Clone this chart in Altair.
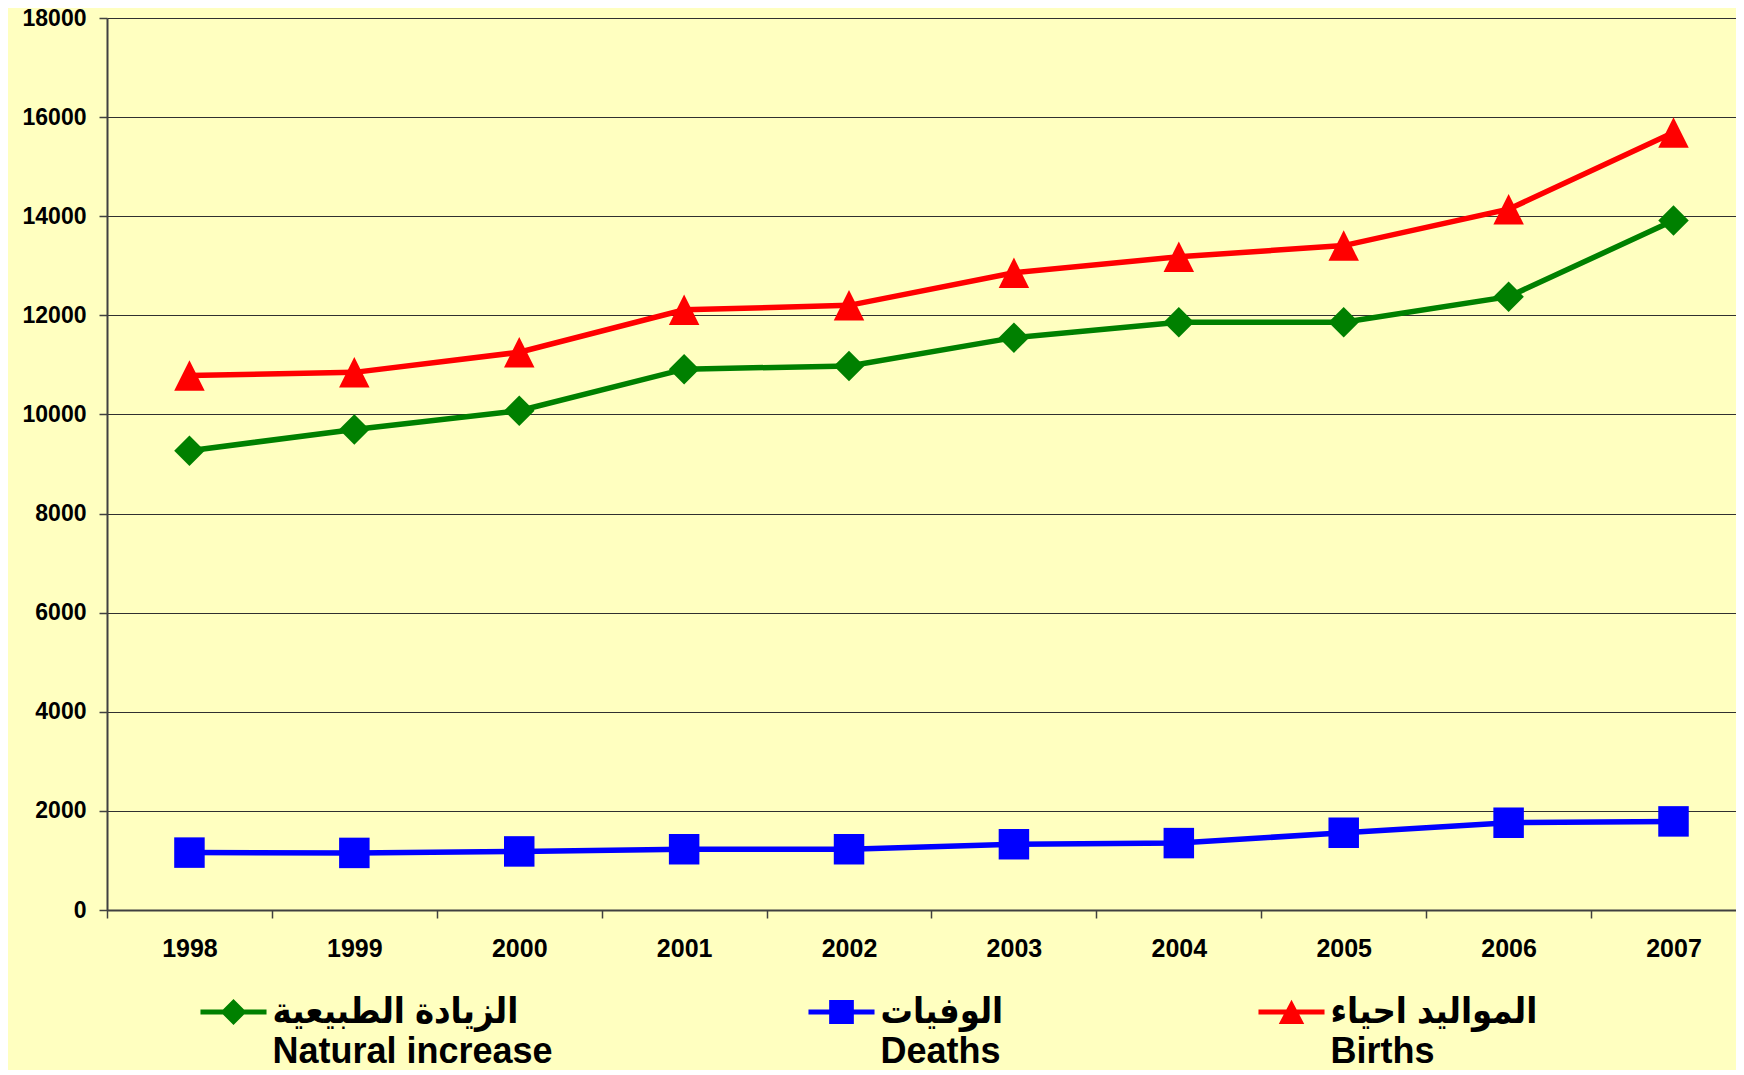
import altair as alt
import pandas as pd

years = [1998, 1999, 2000, 2001, 2002, 2003, 2004, 2005, 2006, 2007]
natural_increase = [9268, 9698, 10074, 10913, 10980, 11550, 11859, 11859, 12377, 13912]
deaths = [1158, 1152, 1182, 1226, 1226, 1327, 1350, 1559, 1761, 1788]
births = [10785, 10849, 11255, 12111, 12201, 12859, 13181, 13407, 14141, 15690]

series_en = ["Natural increase", "Deaths", "Births"]
series_ar = ["الزيادة الطبيعية", "الوفيات", "المواليد احياء"]
series_colors = ["#008000", "#0000FF", "#FF0000"]
y_ticks = [0, 2000, 4000, 6000, 8000, 10000, 12000, 14000, 16000, 18000]

rows = []
for name, vals in zip(series_en, [natural_increase, deaths, births]):
    for yr, v in zip(years, vals):
        rows.append({"year": yr, "series": name, "value": v})
df = pd.DataFrame(rows)

FONT = "Liberation Sans, Arial, DejaVu Sans, sans-serif"
LEG_FONT = "Liberation Sans, Arial, DejaVu Sans Condensed, DejaVu Sans, sans-serif"

marker_paths = ["M0,-1L1,0L0,1L-1,0Z", "M-1,-1H1V1H-1Z", "M0,-1L1,1L-1,1Z"]
bar = "M-2.54,-0.19H2.54V0.19H-2.54Z "
legend_paths = [
    bar + "M0,-1L1,0L0,1L-1,0Z",
    bar + "M-0.95,-0.92H0.95V0.92H-0.95Z",
    bar + "M0,-0.95L0.98,0.92L-0.98,0.92Z",
]

label_expr = " : ".join(
    f"datum.label == '{en}' ? ['{ar}', '{en}']" for en, ar in zip(series_en, series_ar)
) + " : datum.label"

leg = alt.Legend(
    title=None,
    orient="none",
    legendX=108.5,
    legendY=976,
    direction="horizontal",
    columns=3,
    gridAlign="each",
    columnPadding=254,
    labelExpr=label_expr,
    labelFont=LEG_FONT,
    labelFontSize=36,
    labelFontWeight="bold",
    labelColor="black",
    labelLimit=1000,
    labelOffset=21,
    symbolSize=676,
    symbolStrokeWidth=0,
    symbolOpacity=1,
    padding=0,
)

band = 164.9
x_enc = alt.X(
    "year:Q",
    scale=alt.Scale(domain=[1997.5, 2007.379], nice=False, zero=False),
    axis=alt.Axis(
        values=years, format="d", title=None, grid=False,
        tickOffset=-band / 2, labelOffset=band / 2,
        tickSize=8, tickWidth=1.5, tickColor="#404040",
        domainWidth=2, domainColor="#404040",
        labelPadding=18, labelFlush=False, labelOverlap=False,
        labelFont=FONT, labelFontSize=25, labelFontWeight="bold", labelColor="black",
    ),
)
y_enc = alt.Y(
    "value:Q",
    scale=alt.Scale(domain=[0, 18000], nice=False),
    axis=alt.Axis(
        values=y_ticks, format="d", title=None,
        grid=True, gridColor="#303030", gridWidth=1,
        tickSize=8, tickWidth=1.5, tickColor="#404040",
        domainWidth=2, domainColor="#404040",
        labelPadding=13,
        labelFont=FONT, labelFontSize=23, labelFontWeight="bold", labelColor="black",
    ),
)

color_scale = alt.Scale(domain=series_en, range=series_colors)

# legend-only layer (no rows): carries the colour + shape scales for the legend
legend_layer = (
    alt.Chart(df)
    .transform_filter("false")
    .mark_point(filled=True, opacity=1, strokeWidth=0)
    .encode(
        x=x_enc, y=y_enc,
        color=alt.Color("series:N", scale=color_scale, legend=leg),
        shape=alt.Shape("series:N", scale=alt.Scale(domain=series_en, range=legend_paths), legend=leg),
    )
)

layers = [legend_layer]
for en, col in zip(series_en, series_colors):
    layers.append(
        alt.Chart(df).transform_filter(alt.datum.series == en)
        .mark_line(strokeWidth=5.5, color=col)
        .encode(x=x_enc, y=y_enc)
    )
for en, col, path in zip(series_en, series_colors, marker_paths):
    layers.append(
        alt.Chart(df).transform_filter(alt.datum.series == en)
        .mark_point(filled=True, opacity=1, size=930, strokeWidth=0, shape=path, color=col)
        .encode(x=x_enc, y=y_enc)
    )

chart = (
    alt.layer(*layers)
    .properties(
        width=1629, height=892, background="#FFFFC0",
        padding={"left": 99, "top": 10, "right": 0, "bottom": 160},
        autosize=alt.AutoSizeParams(type="none"),
    )
    .configure_view(stroke=None)
    .configure(style={"guide-label": {"lineHeight": 40}})
)

chart.save("out.html", embed_options={"renderer": "svg", "actions": False})
